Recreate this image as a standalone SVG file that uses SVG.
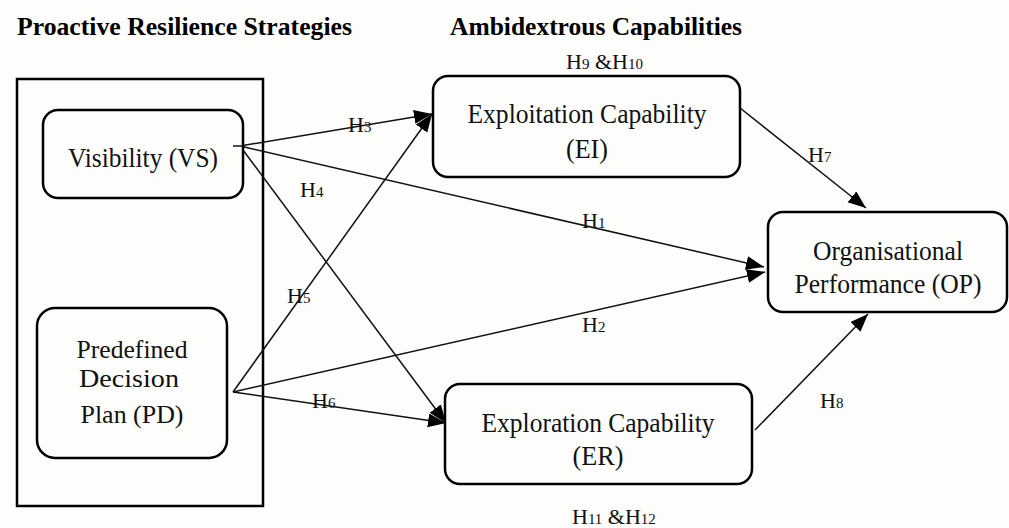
<svg xmlns="http://www.w3.org/2000/svg" width="1009" height="528" viewBox="0 0 1009 528">
<defs>
<style>
.bg{fill:#fdfdfb}
.box{fill:none;stroke:#000;stroke-width:2.5}
.node{fill:#fdfdfb;stroke:#000;stroke-width:2.5}
.title{font-family:"Liberation Serif","Times New Roman",serif;font-weight:bold;font-size:25px;fill:#000}
.nt{font-family:"Liberation Serif","Times New Roman",serif;font-size:28px;fill:#111;text-anchor:middle}
.pd{font-size:26px}
.hl{font-family:"Liberation Serif","Times New Roman",serif;font-size:22px;fill:#111}
.sub{font-size:15px}
.edge{stroke:#111;stroke-width:1.5;fill:none;marker-end:url(#ah)}
</style>
<marker id="ah" markerUnits="userSpaceOnUse" markerWidth="20" markerHeight="16" refX="18" refY="7" orient="auto">
<path d="M0,0 L18,7 L0,14 z" fill="#000"/>
</marker>
</defs>
<rect class="bg" x="0" y="0" width="1009" height="528"/>
<g id="titles">
<text class="title" x="17" y="35" textLength="335" lengthAdjust="spacingAndGlyphs">Proactive Resilience Strategies</text>
<text class="title" x="450" y="35" textLength="292" lengthAdjust="spacingAndGlyphs">Ambidextrous Capabilities</text>
</g>
<g id="group-prs">
<rect class="box" x="17" y="79" width="246" height="427"/>
</g>
<g id="connectors">
<line class="edge" x1="240" y1="146" x2="432" y2="114"/>
<line class="edge" x1="233" y1="392" x2="432" y2="114"/>
<line class="edge" x1="240" y1="146" x2="446" y2="423"/>
<line class="edge" x1="233" y1="392" x2="446" y2="423"/>
<line class="edge" x1="240" y1="146" x2="764" y2="267"/>
<line class="edge" x1="233" y1="392" x2="765" y2="272"/>
<line class="edge" x1="740" y1="108" x2="866" y2="208"/>
<line class="edge" x1="755" y1="430" x2="868" y2="314"/>
</g>
<g id="node-vs">
<rect class="node" x="43" y="110" width="200" height="88" rx="15"/>
<text class="nt" x="143" y="167" textLength="150" lengthAdjust="spacingAndGlyphs">Visibility (VS)</text>
</g>
<line x1="233" y1="146" x2="243" y2="146" stroke="#111" stroke-width="1.5"/>
<g id="node-pd">
<rect class="node" x="37" y="308" width="190" height="150" rx="18"/>
<text class="nt pd" x="132" y="358" textLength="111" lengthAdjust="spacingAndGlyphs">Predefined</text>
<text class="nt pd" x="129" y="387" textLength="100" lengthAdjust="spacingAndGlyphs">Decision</text>
<text class="nt pd" x="132" y="423" textLength="103" lengthAdjust="spacingAndGlyphs">Plan (PD)</text>
</g>
<g id="node-ei">
<rect class="node" x="433" y="76" width="307" height="101" rx="15"/>
<text class="nt" x="587" y="123" textLength="239" lengthAdjust="spacingAndGlyphs">Exploitation Capability</text>
<text class="nt" x="587" y="158" textLength="42" lengthAdjust="spacingAndGlyphs">(EI)</text>
</g>
<g id="node-er">
<rect class="node" x="445" y="384" width="307" height="100" rx="15"/>
<text class="nt" x="598" y="432" textLength="233" lengthAdjust="spacingAndGlyphs">Exploration Capability</text>
<text class="nt" x="598" y="465" textLength="51" lengthAdjust="spacingAndGlyphs">(ER)</text>
</g>
<g id="node-op">
<rect class="node" x="768" y="212" width="239" height="100" rx="15"/>
<text class="nt" x="888" y="260" textLength="150" lengthAdjust="spacingAndGlyphs">Organisational</text>
<text class="nt" x="888" y="293" textLength="187" lengthAdjust="spacingAndGlyphs">Performance (OP)</text>
</g>
<g id="labels">
<text class="hl" x="566" y="69">H<tspan class="sub">9</tspan> &amp;H<tspan class="sub">10</tspan></text>
<text class="hl" x="572" y="524">H<tspan class="sub">11</tspan> &amp;H<tspan class="sub">12</tspan></text>
<text class="hl" x="348" y="132">H<tspan class="sub">3</tspan></text>
<text class="hl" x="300" y="197">H<tspan class="sub">4</tspan></text>
<text class="hl" x="287" y="303">H<tspan class="sub">5</tspan></text>
<text class="hl" x="312" y="408">H<tspan class="sub">6</tspan></text>
<text class="hl" x="808" y="162">H<tspan class="sub">7</tspan></text>
<text class="hl" x="820" y="408">H<tspan class="sub">8</tspan></text>
<text class="hl" x="582" y="228">H<tspan class="sub">1</tspan></text>
<text class="hl" x="582" y="332">H<tspan class="sub">2</tspan></text>
</g>
</svg>
